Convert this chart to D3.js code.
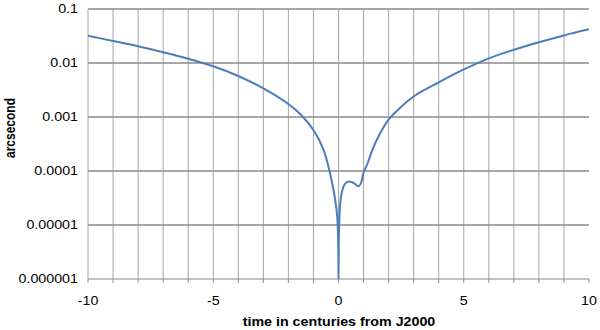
<!DOCTYPE html>
<html>
<head>
<meta charset="utf-8">
<script src="https://cdn.jsdelivr.net/npm/d3@7"></script>
<style>
  body { margin: 0; background: #fff; }
  text { font-family: "Liberation Sans", Arial, sans-serif; fill: #000; }
</style>
</head>
<body>
<svg id="chart"></svg>
<script>
// time in centuries from J2000, and difference in arcseconds
const times = [-10, -9, -8, -7, -6, -5, -4, -3, -2, -1.5, -1, -0.6, -0.37, -0.24, -0.13, -0.05, -0.01, 0,
    0.01, 0.03, 0.07, 0.13, 0.23, 0.36, 0.49, 0.63, 0.8, 0.9, 1.0, 1.16, 1.36, 1.63, 2, 2.43, 3, 4, 5, 6, 7, 8, 9, 10];
const arcsec = [0.0321, 0.0255, 0.0204, 0.0158, 0.012, 0.0087, 0.00575, 0.00339, 0.00174, 0.0011, 0.000575, 0.00025, 0.000105, 0.000055, 0.000029, 0.000014, 0.000004, 0.000001,
    0.000004, 0.000011, 0.000025, 0.00004, 0.000055, 0.000063, 0.000063, 0.000059, 0.000052, 0.00006, 0.000093, 0.000138, 0.000251, 0.000468, 0.000891, 0.00144, 0.0024, 0.00437, 0.00759, 0.0122, 0.0176, 0.0242, 0.0324, 0.042];

const xTicks = d3.range(-10, 11, 1);
const xLabels = [-10, -5, 0, 5, 10];
const yTicks = [0.1, 0.01, 0.001, 0.0001, 0.00001, 0.000001];
const yLabels = ["0.1", "0.01", "0.001", "0.0001", "0.00001", "0.000001"];

const width = 600;
const height = 330;
const sx = 1.19; // the picture's text is stretched sideways

const svg = d3.select("#chart")
    .attr("width", width)
    .attr("height", height);

const x = d3.scaleLinear().domain([-10, 10]).range([88, 589]);
const y = d3.scaleLog().domain([0.000001, 0.1]).range([279, 9]);

svg.append("clipPath")
    .attr("id", "plot")
    .append("rect")
    .attr("x", x(-10))
    .attr("y", y(0.1) - 2)
    .attr("width", x(10) - x(-10))
    .attr("height", y(0.000001) - y(0.1) + 2);

// vertical grid
svg.append("g")
    .selectAll("line")
    .data(xTicks.filter(d => d < 10))
    .enter()
    .append("line")
    .attr("x1", d => x(d))
    .attr("x2", d => x(d))
    .attr("y1", y(0.1))
    .attr("y2", y(0.000001))
    .attr("stroke", "#a6a6a6")
    .attr("stroke-width", 1);

// horizontal grid
svg.append("g")
    .selectAll("line")
    .data(yTicks)
    .enter()
    .append("line")
    .attr("x1", x(-10))
    .attr("x2", x(10))
    .attr("y1", d => y(d))
    .attr("y2", d => y(d))
    .attr("stroke", "#8a8a8a")
    .attr("stroke-width", d => d === 0.000001 ? 1.2 : 1.6);

// x tick marks
svg.append("g")
    .selectAll("line")
    .data(xTicks)
    .enter()
    .append("line")
    .attr("x1", d => x(d))
    .attr("x2", d => x(d))
    .attr("y1", y(0.000001))
    .attr("y2", y(0.000001) + 4)
    .attr("stroke", "#8a8a8a")
    .attr("stroke-width", 1);

svg.append("g")
    .selectAll("text")
    .data(xLabels)
    .enter()
    .append("text")
    .attr("transform", d => `translate(${x(d)},305) scale(${sx},1)`)
    .attr("text-anchor", "middle")
    .attr("font-size", "12px")
    .text(d => d);

svg.append("g")
    .selectAll("text")
    .data(yTicks)
    .enter()
    .append("text")
    .attr("transform", d => `translate(78,${y(d) + 4.3}) scale(${sx},1)`)
    .attr("text-anchor", "end")
    .attr("font-size", "12px")
    .text((d, i) => yLabels[i]);

svg.append("text")
    .attr("transform", `translate(339,326) scale(${sx},1)`)
    .attr("text-anchor", "middle")
    .attr("font-size", "12px")
    .attr("font-weight", "bold")
    .text("time in centuries from J2000");

svg.append("text")
    .attr("transform", `translate(15,128) scale(${sx},1) rotate(-90)`)
    .attr("text-anchor", "middle")
    .attr("font-size", "12px")
    .attr("font-weight", "bold")
    .text("arcsecond");

const line = d3.line()
    .x((d, i) => x(times[i]))
    .y(d => y(d))
    .curve(d3.curveCatmullRom.alpha(0.5));

svg.append("path")
    .datum(arcsec)
    .attr("clip-path", "url(#plot)")
    .attr("fill", "none")
    .attr("stroke", "#4a7ebb")
    .attr("stroke-width", 2)
    .attr("stroke-linejoin", "round")
    .attr("d", line);
</script>
</body>
</html>
